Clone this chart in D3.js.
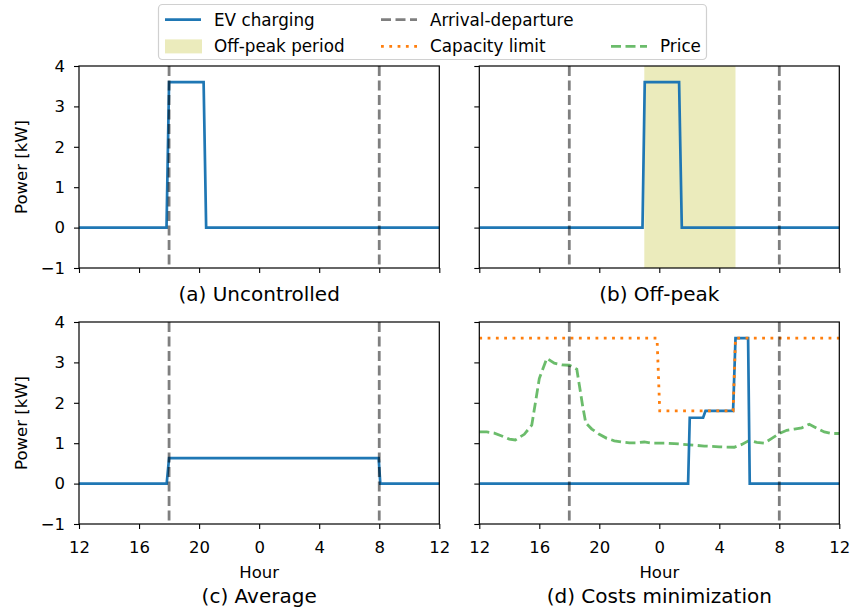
<!DOCTYPE html>
<html>
<head>
<meta charset="utf-8">
<script src="https://cdn.jsdelivr.net/npm/d3@7"></script>
<style>
html, body { margin: 0; padding: 0; background: #fff; }
svg { display: block; font-family: "DejaVu Sans", sans-serif; }
</style>
</head>
<body>
<svg id="chart" width="850" height="612"></svg>
<script>
// ---- data (hours counted from 12:00 noon) ----
const hourTicks = [0, 4, 8, 12, 16, 20, 24];
const hourTickLabels = ["12", "16", "20", "0", "4", "8", "12"];
const powerTicks = [-1, 0, 1, 2, 3, 4];
const arrivalDeparture = [6, 20];
const offPeakPeriod = [11.0, 17.08];

const uncontrolled = [[0, 0], [5.83, 0], [6.0, 3.6], [8.3, 3.6], [8.47, 0], [24, 0]];
const offPeak = [[0, 0], [10.88, 0], [11.03, 3.6], [13.32, 3.6], [13.5, 0], [24, 0]];
const average = [[0, 0], [5.84, 0], [6.0, 0.63], [19.96, 0.63], [20.07, 0], [24, 0]];
const costsMin = [[0, 0], [13.92, 0], [14.03, 1.63], [14.92, 1.63], [15.08, 1.8], [16.92, 1.8],
                  [17.08, 3.6], [17.92, 3.6], [18.03, 0], [24, 0]];
const capacityLimit = [[0, 3.6], [11.85, 3.6], [12.03, 1.8], [16.92, 1.8], [17.08, 3.6], [24, 3.6]];
const price = [[0, 1.28], [0.5, 1.28], [1, 1.25], [1.5, 1.18], [2, 1.1], [2.4, 1.08], [3, 1.22],
  [3.5, 1.45], [4, 2.6], [4.5, 3.1], [5, 2.98], [5.5, 2.94], [6, 2.93], [6.5, 2.83], [6.9, 1.9],
  [7.1, 1.5], [7.5, 1.35], [8, 1.22], [8.5, 1.12], [9, 1.06], [9.5, 1.03], [10, 1.01], [10.5, 1.01],
  [11, 1.03], [11.5, 1.0], [12, 1.0], [12.5, 1.0], [13, 0.99], [14, 0.96], [15, 0.93], [16, 0.91],
  [17, 0.9], [17.5, 0.97], [18, 1.07], [18.5, 1.02], [19, 1.0], [19.5, 1.12], [20, 1.24], [20.5, 1.32],
  [21, 1.35], [21.5, 1.38], [22, 1.47], [22.5, 1.37], [23, 1.28], [23.5, 1.24], [24, 1.24]];

const panelTitles = ["(a) Uncontrolled", "(b) Off-peak", "(c) Average", "(d) Costs minimization"];

// ---- layout ----
const svg = d3.select("#chart");
const panels = [
  { x0: 79, x1: 439.3, y0: 66, y1: 268, yLab: true, xLab: false, titleY: 300.5 },
  { x0: 479.3, x1: 839.3, y0: 66, y1: 268, yLab: false, xLab: false, titleY: 300.5 },
  { x0: 79, x1: 439.3, y0: 322, y1: 524, yLab: true, xLab: true, titleY: 603 },
  { x0: 479.3, x1: 839.3, y0: 322, y1: 524, yLab: false, xLab: true, titleY: 603 }
];
const C = { blue: "#1f77b4", orange: "#ff7f0e", green: "#2ca02c", olive: "#bcbd22" };

panels.forEach((p, i) => {
  p.x = d3.scaleLinear().domain([0, 24]).range([p.x0, p.x1]);
  p.y = d3.scaleLinear().domain([-1, 4]).range([p.y1, p.y0]);
  const g = svg.append("g");
  const line = d3.line().x(d => p.x(d[0])).y(d => p.y(d[1]));

  if (i === 1) {
    g.append("rect")
      .attr("x", p.x(offPeakPeriod[0])).attr("y", p.y0)
      .attr("width", p.x(offPeakPeriod[1]) - p.x(offPeakPeriod[0]))
      .attr("height", p.y1 - p.y0)
      .attr("fill", C.olive).attr("fill-opacity", 0.3);
  }
  const series = [uncontrolled, offPeak, average, costsMin][i];
  if (i === 3) {
    g.append("path").attr("d", line(price)).attr("fill", "none")
      .attr("stroke", C.green).attr("stroke-opacity", 0.7).attr("stroke-width", 2.8)
      .attr("stroke-dasharray", "10,4.5");
  }
  g.append("path").attr("d", line(series)).attr("fill", "none")
    .attr("stroke", C.blue).attr("stroke-width", 2.7).attr("stroke-linejoin", "miter");
  if (i === 3) {
    g.append("path").attr("d", line(capacityLimit)).attr("fill", "none")
      .attr("stroke", C.orange).attr("stroke-width", 2.8)
      .attr("stroke-dasharray", "2.8,5.5");
  }
  arrivalDeparture.forEach(h => {
    g.append("line").attr("x1", p.x(h)).attr("x2", p.x(h))
      .attr("y1", p.y0).attr("y2", p.y1)
      .attr("stroke", "#000").attr("stroke-opacity", 0.5).attr("stroke-width", 2.8)
      .attr("stroke-dasharray", "10,4.5");
  });

  // axes
  const xAxis = d3.axisBottom(p.x).tickValues(hourTicks).tickSize(5).tickPadding(12)
    .tickFormat((d, k) => p.xLab ? hourTickLabels[k] : "");
  const yAxis = d3.axisLeft(p.y).tickValues(powerTicks).tickSize(5).tickPadding(9)
    .tickFormat(d => p.yLab ? (d < 0 ? "\u2212" + Math.abs(d) : d) : "");
  const gx = g.append("g").attr("transform", `translate(0,${p.y1})`).call(xAxis);
  const gy = g.append("g").attr("transform", `translate(${p.x0},0)`).call(yAxis);
  [gx, gy].forEach(a => {
    a.select(".domain").remove();
    a.selectAll(".tick line").attr("stroke", "#000").attr("stroke-width", 1.1);
    a.selectAll(".tick text").attr("font-size", 16.5).attr("fill", "#000")
      .attr("font-family", "DejaVu Sans");
  });
  g.append("rect").attr("x", p.x0).attr("y", p.y0)
    .attr("width", p.x1 - p.x0).attr("height", p.y1 - p.y0)
    .attr("fill", "none").attr("stroke", "#000").attr("stroke-width", 1.2);

  if (p.yLab) {
    g.append("text").attr("transform", `translate(27,${(p.y0 + p.y1) / 2}) rotate(-90)`)
      .attr("text-anchor", "middle").attr("font-size", 16.5).text("Power [kW]");
  }
  if (p.xLab) {
    g.append("text").attr("x", (p.x0 + p.x1) / 2).attr("y", 578)
      .attr("text-anchor", "middle").attr("font-size", 16.5).text("Hour");
  }
  g.append("text").attr("x", (p.x0 + p.x1) / 2).attr("y", p.titleY)
    .attr("text-anchor", "middle").attr("font-size", 20).text(panelTitles[i]);
});

// ---- legend ----
const lg = svg.append("g");
lg.append("rect").attr("x", 158.5).attr("y", 4.5).attr("width", 548).attr("height", 55).attr("rx", 4)
  .attr("fill", "#fff").attr("fill-opacity", 0.8).attr("stroke", "#d0d0d0").attr("stroke-width", 1.2);
const legendItems = [
  { label: "EV charging", kind: "line", color: C.blue, dash: null, hx: 165, ty: 19.6 },
  { label: "Off-peak period", kind: "patch", color: C.olive, hx: 165, ty: 46.4 },
  { label: "Arrival-departure", kind: "line", color: "#000", op: 0.5, dash: "10,4.5", hx: 381, ty: 19.6 },
  { label: "Capacity limit", kind: "line", color: C.orange, dash: "2.8,5.5", hx: 381, ty: 46.4 },
  { label: "Price", kind: "line", color: C.green, op: 0.7, dash: "10,4.5", hx: 611, ty: 46.4 }
];
legendItems.forEach(it => {
  if (it.kind === "patch") {
    lg.append("rect").attr("x", it.hx).attr("y", it.ty - 7).attr("width", 37).attr("height", 14)
      .attr("fill", it.color).attr("fill-opacity", 0.3);
  } else {
    lg.append("line").attr("x1", it.hx).attr("x2", it.hx + 36).attr("y1", it.ty).attr("y2", it.ty)
      .attr("stroke", it.color).attr("stroke-opacity", it.op || 1).attr("stroke-width", 2.8)
      .attr("stroke-dasharray", it.dash);
  }
  lg.append("text").attr("x", it.hx + 49).attr("y", it.ty + 6).attr("font-size", 16.8).text(it.label);
});
</script>
</body>
</html>
